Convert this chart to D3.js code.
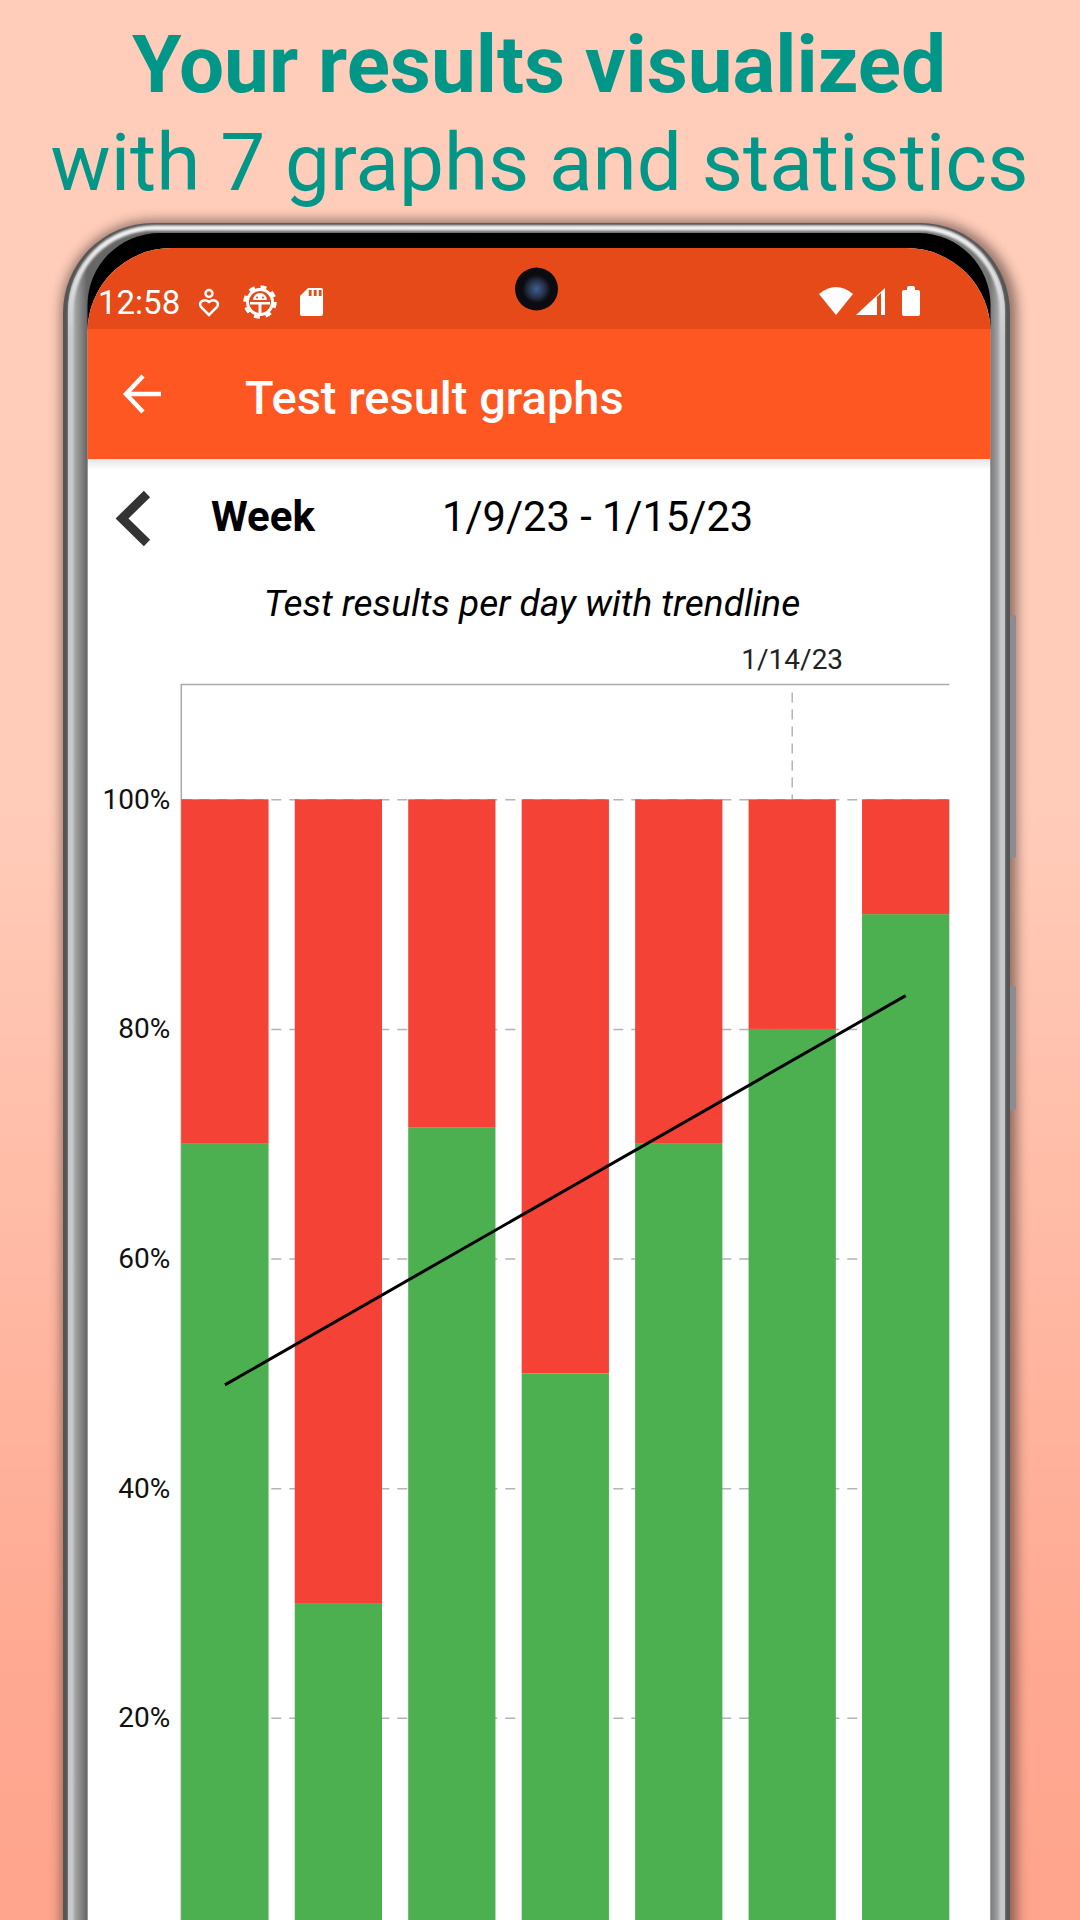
<!DOCTYPE html>
<html>
<head>
<meta charset="utf-8">
<script src="https://cdn.jsdelivr.net/npm/d3@7"></script>
<style>
  html, body { margin: 0; padding: 0; background: #ffc9b8; }
  svg { display: block; font-family: Roboto, sans-serif; }
</style>
</head>
<body>
<svg id="chart" width="1080" height="1920"></svg>
<script>
// values
const days = ["1/9/23", "1/10/23", "1/11/23", "1/12/23", "1/13/23", "1/14/23", "1/15/23"];
const passed = [70, 30, 71.4, 50, 70, 80, 90];
const failed = [30, 70, 28.6, 50, 30, 20, 10];
const tickValues = [20, 40, 60, 80, 100];
const trendDays = ["1/9/23", "1/15/23"];
const trendValues = [49, 82.9];
const selectedDay = "1/14/23";

const headline = "Your results visualized";
const subline = "with 7 graphs and statistics";
const pageTitle = "Test result graphs";
const periodName = "Week";
const periodRange = "1/9/23 - 1/15/23";
const chartTitle = "Test results per day with trendline";
const clock = "12:58";

const width = 1080;
const height = 1920;
const plot = { left: 181.3, right: 949.3, top: 684.5, bottom: 1947.5 };

const svg = d3.select("#chart");
const defs = svg.append("defs");

function gradient(id, stops, vertical) {
  const g = defs.append("linearGradient").attr("id", id)
    .attr("x1", 0).attr("y1", 0)
    .attr("x2", vertical ? 0 : 1).attr("y2", vertical ? 1 : 0);
  stops.forEach(s => g.append("stop").attr("offset", s[0]).attr("stop-color", s[1]));
  return g;
}

gradient("bg", [[0, "#ffcdba"], [0.42, "#ffccb9"], [0.86, "#ffa992"], [1, "#ffa48d"]], true);
// frame: sides are brushed metal, light outside and dark towards the screen
gradient("metal", [[0, "#c8c9cb"], [0.0203, "#666"], [0.984, "#777"], [1, "#c9cacc"]], false);
gradient("cornerLight", [[0, "#f4f4f4"], [1, "#c8c9cb"]], true)
  .attr("gradientUnits", "userSpaceOnUse")
  .attr("x1", 0).attr("x2", 0).attr("y1", 226).attr("y2", 340);
gradient("barShade", [[0, "rgba(0,0,0,0.10)"], [1, "rgba(0,0,0,0)"]], true);

const lens = defs.append("radialGradient").attr("id", "lens");
lens.append("stop").attr("offset", 0).attr("stop-color", "#3f5f92");
lens.append("stop").attr("offset", 0.6).attr("stop-color", "#26324a");
lens.append("stop").attr("offset", 1).attr("stop-color", "#0c0c10");

defs.append("filter").attr("id", "blur")
  .attr("x", "-5%").attr("y", "-5%").attr("width", "110%").attr("height", "110%")
  .append("feGaussianBlur").attr("stdDeviation", 6);
defs.append("filter").attr("id", "softEdge")
  .attr("x", "-5%").attr("y", "-5%").attr("width", "110%").attr("height", "110%")
  .append("feGaussianBlur").attr("stdDeviation", 1);

defs.append("clipPath").attr("id", "screenClip")
  .append("rect")
  .attr("x", 87.5).attr("y", 248).attr("width", 903).attr("height", 1800).attr("rx", 84);

svg.append("rect").attr("width", width).attr("height", height).attr("fill", "url(#bg)");

// headline
svg.append("text")
  .attr("x", 539).attr("y", 92)
  .attr("text-anchor", "middle")
  .attr("font-size", 80).attr("font-weight", 700)
  .attr("fill", "#009688")
  .text(headline);

svg.append("text")
  .attr("x", 539.5).attr("y", 190)
  .attr("text-anchor", "middle")
  .attr("font-size", 80)
  .attr("fill", "#009688")
  .text(subline);

// phone body
const phone = svg.append("g");

phone.append("rect")
  .attr("x", 61).attr("y", 220).attr("width", 956).attr("height", 1800).attr("rx", 92)
  .attr("fill", "#3a2a25").attr("opacity", 0.55)
  .attr("filter", "url(#blur)");

// side buttons
phone.append("rect").attr("x", 1006).attr("y", 615).attr("width", 10).attr("height", 243).attr("rx", 2).attr("fill", "#8c8c90");
phone.append("rect").attr("x", 1006).attr("y", 986).attr("width", 10).attr("height", 124).attr("rx", 2).attr("fill", "#8c8c90");

phone.append("rect")
  .attr("x", 63).attr("y", 223).attr("width", 947).attr("height", 1800).attr("rx", 90)
  .attr("fill", "#555");
phone.append("rect")
  .attr("x", 68).attr("y", 225).attr("width", 937).attr("height", 1800).attr("rx", 86)
  .attr("fill", "url(#metal)");
phone.append("rect")
  .attr("x", 71).attr("y", 228).attr("width", 931).attr("height", 1800).attr("rx", 83)
  .attr("fill", "none")
  .attr("stroke", "url(#cornerLight)").attr("stroke-width", 5)
  .attr("filter", "url(#softEdge)");
phone.append("rect")
  .attr("x", 87.5).attr("y", 233).attr("width", 903).attr("height", 1800).attr("rx", 72)
  .attr("fill", "#000");

// screen contents
const screen = svg.append("g").attr("clip-path", "url(#screenClip)");

screen.append("rect").attr("x", 87).attr("y", 248).attr("width", 904).attr("height", 1700).attr("fill", "#fff");
screen.append("rect").attr("x", 87).attr("y", 248).attr("width", 904).attr("height", 81).attr("fill", "#e64a19");
screen.append("rect").attr("x", 87).attr("y", 329).attr("width", 904).attr("height", 130).attr("fill", "#ff5722");
screen.append("rect").attr("x", 87).attr("y", 459).attr("width", 904).attr("height", 11).attr("fill", "url(#barShade)");

// camera hole
svg.append("circle").attr("cx", 536.5).attr("cy", 289).attr("r", 21.5).attr("fill", "#0c0c10");
svg.append("circle").attr("cx", 536.5).attr("cy", 289).attr("r", 14).attr("fill", "url(#lens)");

// status bar
const status = svg.append("g").attr("fill", "#fff");

status.append("text")
  .attr("x", 98).attr("y", 314)
  .attr("font-size", 33)
  .text(clock);

// small heart with a dot
status.append("circle").attr("cx", 209).attr("cy", 293.5).attr("r", 3.5)
  .attr("fill", "none").attr("stroke", "#fff").attr("stroke-width", 2.5);
status.append("path")
  .attr("d", "M209,315 L201,307 C198,302 204,298 209,302 C214,298 220,302 217,307 Z")
  .attr("fill", "none").attr("stroke", "#fff").attr("stroke-width", 2.5);

// settings gear with the android head
status.append("circle").attr("cx", 260).attr("cy", 302).attr("r", 12.5)
  .attr("fill", "none").attr("stroke", "#fff").attr("stroke-width", 3);
status.append("circle").attr("cx", 260).attr("cy", 302).attr("r", 15)
  .attr("fill", "none").attr("stroke", "#fff").attr("stroke-width", 3.5)
  .attr("stroke-dasharray", "5.9 5.9");
status.append("path")
  .attr("d", "M253,300 A7,7 0 0 1 267,300 Z M250,302 H270 V304.5 H261.5 V313 H258.5 V304.5 H250 Z");
status.append("circle").attr("cx", 257).attr("cy", 297.5).attr("r", 1).attr("fill", "#e64a19");
status.append("circle").attr("cx", 263).attr("cy", 297.5).attr("r", 1).attr("fill", "#e64a19");

// sd card
status.append("path")
  .attr("d", "M308,288 H321 Q323,288 323,290 V314 Q323,316 321,316 H302 Q300,316 300,314 V296 Z");
status.selectAll(".pin").data([310, 315, 320]).join("rect").attr("class", "pin")
  .attr("x", d => d - 1.2).attr("y", 290).attr("width", 2.8).attr("height", 6).attr("fill", "#e64a19");

// wifi, signal, battery
status.append("path").attr("d", "M819,294 Q836,280 853,294 L836,315 Z");
status.append("path").attr("d", "M856,315 L885,288 V315 Z");
status.append("path").attr("d", "M877,315 V297 L881,293 V315 Z").attr("fill", "#e64a19");
status.append("path")
  .attr("d", "M907,290 V288 Q907,286 909,286 H913 Q915,286 915,288 V290 H918 Q920,290 920,292 V314 Q920,316 918,316 H904 Q902,316 902,314 V292 Q902,290 904,290 Z");

// app bar
svg.append("path")
  .attr("d", "M143,376 L126,394 L143,412 M126,394 H161")
  .attr("fill", "none").attr("stroke", "#fff").attr("stroke-width", 4.5);

svg.append("text")
  .attr("x", 245).attr("y", 414)
  .attr("font-size", 47).attr("font-weight", 500)
  .attr("fill", "#fff")
  .text(pageTitle);

// period row
svg.append("path")
  .attr("d", "M147,494 L122,518.5 L147,543")
  .attr("fill", "none").attr("stroke", "#333").attr("stroke-width", 9);

svg.append("text")
  .attr("x", 211).attr("y", 531)
  .attr("font-size", 42).attr("font-weight", 700)
  .attr("fill", "#000")
  .text(periodName);

svg.append("text")
  .attr("x", 442).attr("y", 531)
  .attr("font-size", 41.6)
  .attr("fill", "#000")
  .text(periodRange);

svg.append("text")
  .attr("x", 532).attr("y", 616)
  .attr("text-anchor", "middle")
  .attr("font-size", 37).attr("font-style", "italic")
  .attr("fill", "#000")
  .text(chartTitle);

// scales
const x = d3.scaleBand()
  .domain(days)
  .range([plot.left, plot.right])
  .paddingInner(0.231)
  .paddingOuter(0);

const y = d3.scaleLinear()
  .domain([0, 110])
  .range([plot.bottom, plot.top]);

const center = d => x(d) + x.bandwidth() / 2;

// grid sits under the bars
const gridColor = "#b4b4b4";
const borderColor = "#aaa";

const yAxis = d3.axisLeft(y)
  .tickValues(tickValues)
  .tickSize(-(plot.right - plot.left))
  .tickPadding(11)
  .tickFormat(d => d + "%");

const yAxisG = svg.append("g")
  .attr("transform", `translate(${plot.left},0)`)
  .call(yAxis);

yAxisG.select(".domain").remove();
yAxisG.selectAll("line")
  .attr("stroke", gridColor)
  .attr("stroke-width", 1.5)
  .attr("stroke-dasharray", "10 8");
yAxisG.selectAll("text")
  .attr("font-size", 28)
  .attr("font-family", "Roboto, sans-serif")
  .attr("fill", "#111");

// top and left border of the plot
svg.append("path")
  .attr("d", d3.line()([[plot.left, plot.bottom], [plot.left, plot.top], [plot.right, plot.top]]))
  .attr("fill", "none")
  .attr("stroke", borderColor)
  .attr("stroke-width", 1.5);

// highlighted day
svg.append("line")
  .attr("x1", center(selectedDay)).attr("x2", center(selectedDay))
  .attr("y1", y(110) + 8).attr("y2", y(0))
  .attr("stroke", gridColor)
  .attr("stroke-width", 1.5)
  .attr("stroke-dasharray", "10 7");

svg.append("text")
  .attr("x", center(selectedDay)).attr("y", 669)
  .attr("text-anchor", "middle")
  .attr("font-size", 28)
  .attr("fill", "#222")
  .text(selectedDay);

// stacked bars
svg.append("g").attr("id", "passed")
  .selectAll("rect")
  .data(days)
  .join("rect")
  .attr("x", d => x(d))
  .attr("width", x.bandwidth())
  .attr("y", (d, i) => y(passed[i]))
  .attr("height", (d, i) => y(0) - y(passed[i]))
  .attr("fill", "#4caf50");

svg.append("g").attr("id", "failed")
  .selectAll("rect")
  .data(days)
  .join("rect")
  .attr("x", d => x(d))
  .attr("width", x.bandwidth())
  .attr("y", (d, i) => y(passed[i] + failed[i]))
  .attr("height", (d, i) => y(passed[i]) - y(passed[i] + failed[i]))
  .attr("fill", "#f44336");

// trendline
const trendLine = d3.line()
  .x(d => center(d[0]))
  .y(d => y(d[1]));

svg.append("path")
  .attr("d", trendLine(d3.zip(trendDays, trendValues)))
  .attr("fill", "none")
  .attr("stroke", "#000")
  .attr("stroke-width", 3);
</script>
</body>
</html>
